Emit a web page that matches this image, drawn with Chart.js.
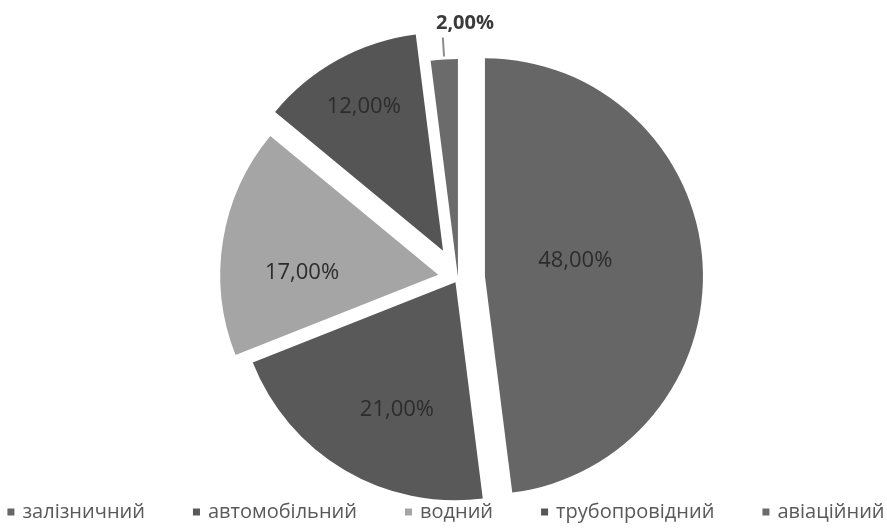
<!DOCTYPE html>
<html>
<head>
<meta charset="utf-8">
<script src="https://cdn.jsdelivr.net/npm/chart.js@4"></script>
<style>
  html, body { margin: 0; padding: 0; background: #fff; }
</style>
</head>
<body>
<canvas id="pieChart" width="887" height="529"></canvas>
<script>
const categories = ['залізничний', 'автомобільний', 'водний', 'трубопровідний', 'авіаційний'];
const shares = [48, 21, 17, 12, 2];
const sliceColors = ['#666666', '#595959', '#a5a5a5', '#555555', '#6b6b6b'];

const fmt = v => v.toFixed(2).replace('.', ',') + '%';

// Each slice is pushed out along its bisector by its own amount
const explode = {
  id: 'explode',
  beforeDatasetDraw(chart, args, opts) {
    const ctx = chart.ctx;
    args.meta.data.forEach((arc, i) => {
      const mid = (arc.startAngle + arc.endAngle) / 2;
      const d = opts.offsets[i] || 0;
      ctx.save();
      ctx.translate(Math.cos(mid) * d, Math.sin(mid) * d);
      arc.draw(ctx);
      ctx.restore();
    });
    return false;
  }
};

// Percent labels: inside for big slices, leader line + bold text for tiny ones
const sliceLabels = {
  id: 'sliceLabels',
  afterDatasetsDraw(chart, args, opts) {
    const ctx = chart.ctx;
    const meta = chart.getDatasetMeta(0);
    const shifts = chart.options.plugins.explode.offsets;
    meta.data.forEach((arc, i) => {
      const v = shares[i];
      const mid = (arc.startAngle + arc.endAngle) / 2;
      const cx = arc.x + Math.cos(mid) * shifts[i];
      const cy = arc.y + Math.sin(mid) * shifts[i];
      const r = arc.outerRadius;
      ctx.save();
      ctx.textAlign = 'center';
      ctx.textBaseline = 'middle';
      if (v < 5) {
        ctx.strokeStyle = '#8c8c8c';
        ctx.lineWidth = 2;
        ctx.beginPath();
        ctx.moveTo(cx + Math.cos(mid) * (r + 3), cy + Math.sin(mid) * (r + 3));
        ctx.lineTo(cx + Math.cos(mid) * (r + 22), cy + Math.sin(mid) * (r + 22));
        ctx.stroke();
        ctx.font = 'bold 20px "Open Sans"';
        ctx.fillStyle = '#3a3a3a';
        ctx.fillText(fmt(v), cx + Math.cos(mid) * (r + 36) + 23, cy + Math.sin(mid) * (r + 36));
      } else {
        const a = mid + opts.turn[i] * Math.PI / 180;
        const d = r * opts.depth[i];
        ctx.font = '22px "Open Sans"';
        ctx.fillStyle = '#2c2c2c';
        ctx.fillText(fmt(v), cx + Math.cos(a) * d, cy + Math.sin(a) * d);
      }
      ctx.restore();
    });
  }
};

// Single-row legend along the bottom edge
const bottomLegend = {
  id: 'bottomLegend',
  afterDraw(chart, args, opts) {
    const ctx = chart.ctx;
    ctx.save();
    ctx.font = opts.font;
    const box = 7, gap = 8;
    const widths = categories.map(c => box + gap + ctx.measureText(c).width);
    const total = widths.reduce((a, b) => a + b, 0) + opts.spacing * (categories.length - 1);
    let x = opts.centerX - total / 2;
    ctx.textBaseline = 'middle';
    ctx.textAlign = 'left';
    categories.forEach((c, i) => {
      ctx.fillStyle = sliceColors[i];
      ctx.fillRect(x, opts.y - box / 2, box, box);
      ctx.fillStyle = '#595959';
      ctx.fillText(c, x + box + gap, opts.y);
      x += widths[i] + opts.spacing;
    });
    ctx.restore();
  }
};

new Chart(document.getElementById('pieChart'), {
  type: 'pie',
  data: {
    labels: categories,
    datasets: [{
      data: shares,
      backgroundColor: sliceColors,
      borderWidth: 0,
      radius: 218
    }]
  },
  options: {
    responsive: false,
    animation: false,
    layout: { padding: { left: 29, right: 0, top: 27, bottom: 0 } },
    plugins: {
      legend: { display: false },
      tooltip: { enabled: false },
      explode: { offsets: [27, 5, 20, 31, 1] },
      sliceLabels: { depth: [0.42, 0.645, 0.625, 0.755, 0], turn: [-6, -6, -8, 0, 0] },
      bottomLegend: { font: '20px "Open Sans"', spacing: 48, centerX: 446, y: 512 }
    }
  },
  plugins: [explode, sliceLabels, bottomLegend]
});
</script>
</body>
</html>
